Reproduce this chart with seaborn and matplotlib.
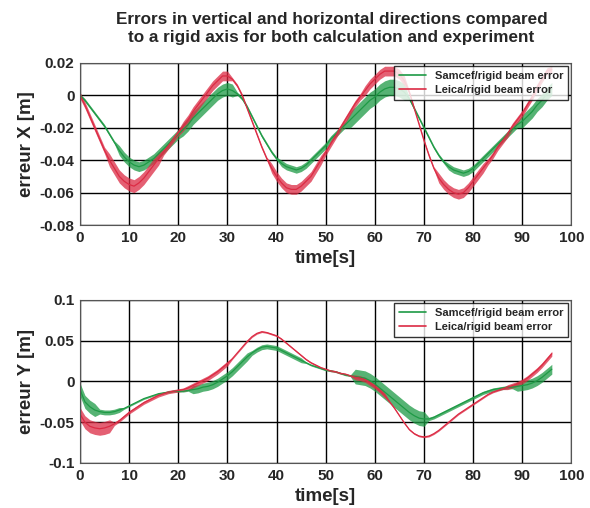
import numpy as np
import pandas as pd
import seaborn as sns
import matplotlib.pyplot as plt

t = list(range(0, 97))

# erreur X [m]
samcef_x = [0, -0.003, -0.007, -0.011, -0.015, -0.019, -0.024, -0.029, -0.034, -0.038,
            -0.041, -0.043, -0.044, -0.043, -0.041, -0.039, -0.036, -0.033, -0.030, -0.027,
            -0.024, -0.021, -0.018, -0.014, -0.011, -0.008, -0.005, -0.002, 0.001, 0.003,
            0.004, 0.003, 0.001, -0.002, -0.007, -0.013, -0.019, -0.025, -0.030, -0.035,
            -0.039, -0.042, -0.044, -0.045, -0.046, -0.045, -0.043, -0.040, -0.037, -0.034,
            -0.031, -0.027, -0.024, -0.021, -0.018, -0.015, -0.012, -0.009, -0.006, -0.003,
            -0.001, 0.002, 0.004, 0.005, 0.005, 0.004, 0.002, -0.002, -0.008, -0.014,
            -0.020, -0.026, -0.032, -0.037, -0.041, -0.044, -0.046, -0.047, -0.048, -0.047,
            -0.045, -0.042, -0.039, -0.036, -0.033, -0.030, -0.027, -0.024, -0.021, -0.018,
            -0.016, -0.013, -0.010, -0.006, -0.003, 0.001, 0.004]
leica_x = [0, -0.006, -0.013, -0.020, -0.027, -0.034, -0.040, -0.045, -0.050, -0.053,
           -0.055, -0.056, -0.054, -0.051, -0.047, -0.043, -0.039, -0.035, -0.031, -0.027,
           -0.023, -0.019, -0.015, -0.010, -0.006, -0.002, 0.002, 0.006, 0.009, 0.012,
           0.012, 0.010, 0.006, 0.000, -0.008, -0.016, -0.024, -0.032, -0.039, -0.045,
           -0.050, -0.054, -0.057, -0.058, -0.058, -0.056, -0.053, -0.050, -0.045, -0.040,
           -0.035, -0.030, -0.025, -0.020, -0.015, -0.010, -0.005, -0.001, 0.003, 0.007,
           0.010, 0.013, 0.015, 0.015, 0.015, 0.013, 0.009, 0.002, -0.008, -0.018,
           -0.028, -0.037, -0.045, -0.051, -0.055, -0.058, -0.060, -0.061, -0.060, -0.057,
           -0.053, -0.049, -0.045, -0.041, -0.037, -0.032, -0.028, -0.024, -0.019, -0.015,
           -0.011, -0.006, -0.001, 0.005, 0.010, 0.015, 0.016]
# half-width of the vibration band
samcef_x_noise = [0.001] * 8 + [0.003] * 13 + [0.004] * 11 + [0.001] * 9 + [0.002] * 14 \
    + [0.005] * 12 + [0.001] * 8 + [0.002] * 15 + [0.004] * 7
leica_x_noise = [0.002] * 6 + [0.004] * 11 + [0.002] * 4 + [0.003] * 10 + [0.001] * 8 \
    + [0.003] * 11 + [0.002] * 8 + [0.003] * 9 + [0.001] * 6 + [0.003] * 10 + [0.002] * 14

# erreur Y [m]
samcef_y = [-0.010, -0.025, -0.031, -0.035, -0.037, -0.038, -0.038, -0.037, -0.035, -0.033,
            -0.030, -0.027, -0.024, -0.021, -0.019, -0.017, -0.015, -0.014, -0.013, -0.012,
            -0.012, -0.012, -0.011, -0.010, -0.009, -0.007, -0.006, -0.004, -0.001, 0.003,
            0.007, 0.012, 0.018, 0.024, 0.030, 0.035, 0.039, 0.042, 0.043, 0.042,
            0.041, 0.038, 0.035, 0.032, 0.029, 0.026, 0.023, 0.020, 0.018, 0.016,
            0.014, 0.013, 0.012, 0.010, 0.008, 0.007, 0.006, 0.005, 0.004, 0.001,
            -0.003, -0.008, -0.013, -0.018, -0.023, -0.028, -0.033, -0.038, -0.042, -0.045,
            -0.046, -0.046, -0.044, -0.041, -0.038, -0.035, -0.032, -0.029, -0.026, -0.023,
            -0.020, -0.017, -0.014, -0.012, -0.010, -0.009, -0.008, -0.007, -0.007, -0.006,
            -0.005, -0.004, -0.002, 0.001, 0.005, 0.010, 0.015]
leica_y = [-0.040, -0.050, -0.055, -0.057, -0.058, -0.057, -0.055, -0.052, -0.048, -0.043,
           -0.038, -0.034, -0.030, -0.026, -0.023, -0.020, -0.017, -0.015, -0.013, -0.012,
           -0.011, -0.010, -0.008, -0.005, -0.002, 0.001, 0.004, 0.008, 0.012, 0.017,
           0.022, 0.028, 0.035, 0.042, 0.049, 0.055, 0.059, 0.061, 0.060, 0.058,
           0.056, 0.052, 0.047, 0.042, 0.037, 0.032, 0.027, 0.023, 0.020, 0.017,
           0.015, 0.013, 0.012, 0.010, 0.009, 0.007, 0.005, 0.004, 0.002, -0.002,
           -0.006, -0.011, -0.017, -0.025, -0.033, -0.042, -0.051, -0.059, -0.064, -0.067,
           -0.068, -0.067, -0.064, -0.060, -0.055, -0.050, -0.045, -0.040, -0.036, -0.032,
           -0.028, -0.024, -0.020, -0.016, -0.013, -0.011, -0.009, -0.007, -0.005, -0.003,
           0.000, 0.004, 0.009, 0.014, 0.020, 0.027, 0.034]
samcef_y_noise = [0.008] * 4 + [0.003] * 5 + [0.001] * 14 + [0.005] * 12 + [0.003] * 11 \
    + [0.001] * 10 + [0.009] * 15 + [0.002] * 18 + [0.006] * 8
leica_y_noise = [0.008] * 7 + [0.002] * 15 + [0.003] * 9 + [0.001] * 25 + [0.003] * 7 \
    + [0.001] * 24 + [0.003] * 10

names = ['Samcef/rigid beam error', 'Leica/rigid beam error']
colors = {names[0]: '#1e9a45', names[1]: '#dc2b44'}

sns.set_style('white')
plt.rcParams['font.family'] = ['Liberation Sans', 'DejaVu Sans']
plt.rcParams['font.weight'] = 'bold'

fig = plt.figure(figsize=(5.9, 5.08), dpi=100)
ax1 = fig.add_axes([0.1356, 0.557, 0.833, 0.319])
ax2 = fig.add_axes([0.1356, 0.0886, 0.833, 0.321])


def draw(ax, ys, noises, ylim, yticks, yticklabels, ylabel):
    df = pd.DataFrame({
        'time': t * 2,
        'err': ys[0] + ys[1],
        'src': [names[0]] * len(t) + [names[1]] * len(t),
    })
    for name, y, nz in zip(names, ys, noises):
        y = np.array(y)
        nz = np.array(nz)
        ax.fill_between(t, y - nz, y + nz, color=colors[name], alpha=0.75, lw=0)
    sns.lineplot(data=df, x='time', y='err', hue='src', palette=colors, lw=0.9, ax=ax)
    ax.set_xlim(0, 100)
    ax.set_ylim(*ylim)
    ax.set_xticks(range(0, 101, 10))
    ax.set_yticks(yticks)
    ax.set_yticklabels(yticklabels)
    ax.grid(True, color='black', lw=1.0)
    ax.tick_params(length=0, labelsize=11, pad=4)
    for s in ax.spines.values():
        s.set_color('#555555')
        s.set_linewidth(0.8)
    ax.set_xlabel('time[s]', fontsize=13.5, fontweight='bold', labelpad=4)
    ax.set_ylabel(ylabel, fontsize=13.5, fontweight='bold', labelpad=3)
    leg = ax.legend(loc='upper right', fontsize=8, frameon=True, fancybox=False,
                    edgecolor='black', borderaxespad=0.3, handlelength=2.4,
                    borderpad=0.45, labelspacing=0.35)
    leg.get_frame().set_linewidth(1.0)
    for line in leg.get_lines():
        line.set_linewidth(1.2)


draw(ax1, [samcef_x, leica_x], [samcef_x_noise, leica_x_noise], (-0.08, 0.02),
     [-0.08, -0.06, -0.04, -0.02, 0, 0.02], ['-0.08', '-0.06', '-0.04', '-0.02', '0', '0.02'],
     'erreur X [m]')
draw(ax2, [samcef_y, leica_y], [samcef_y_noise, leica_y_noise], (-0.1, 0.1),
     [-0.1, -0.05, 0, 0.05, 0.1], ['-0.1', '-0.05', '0', '0.05', '0.1'],
     'erreur Y [m]')

fig.text(0.562, 0.944, 'Errors in vertical and horizontal directions compared\n'
         'to a rigid axis for both calculation and experiment',
         ha='center', va='center', fontsize=12.3, fontweight='bold', linespacing=1.25)

fig.savefig('out.png', dpi=100)
